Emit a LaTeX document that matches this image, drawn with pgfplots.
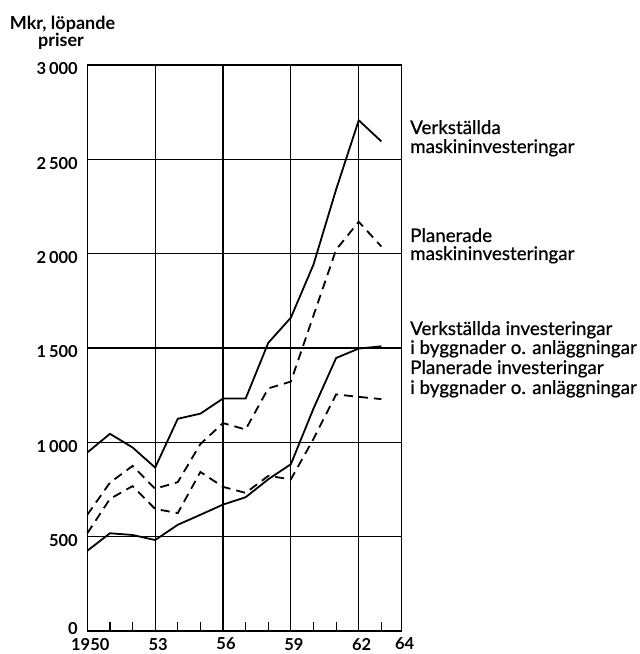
\documentclass[border=0pt]{standalone}
\usepackage{fontspec}
\setmainfont{Lato}
\newfontfamily\medfont{Lato}[FakeBold=0.6]
\usepackage{pgfplots}
\pgfplotsset{compat=1.18}
\pgfplotstableread{
year vm pm vb pb
1950 946 616 425 518
1951 1045 786 518 700
1952 973 875 509 768
1953 866 754 482 647
1954 1125 789 563 625
1955 1152 991 616 843
1956 1232 1102 670 764
1957 1232 1068 709 732
1958 1527 1286 804 822
1959 1661 1322 884 804
1960 1942 1672 1179 1018
1961 2340 2021 1447 1254
1962 2707 2169 1497 1241
1963 2595 2038 1509 1229
}\datatable
\begin{document}
\begin{tikzpicture}
\path[use as bounding box] (0,0) rectangle (640pt,654pt);
\begin{axis}[
  at={(87.3pt,23pt)}, anchor=south west,
  scale only axis, width=314.4pt, height=566pt,
  xmin=1950, xmax=1963.9, ymin=0, ymax=3000,
  xtick={1950,1953,1956,1959,1962,1963.9},
  xticklabels={1950,53,56,59,62,64},
  minor xtick={1951,1952,1954,1955,1957,1958,1960,1961,1963},
  ytick={0,500,1000,1500,2000,2500,3000},
  yticklabels={\raisebox{14pt}{0},500,1\,000,1\,500,2\,000,2\,500,3\,000},
  xmajorgrids, ymajorgrids,
  major grid style={black, line width=1.1pt},
  major tick length=0pt,
  minor tick length=9pt,
  minor tick style={black, line width=1.2pt},
  xtick pos=bottom, ytick pos=left,
  axis line style={line width=1.4pt},
  tick label style={font=\bfseries\fontsize{16.5}{17}\selectfont},
  yticklabel style={xshift=-6pt, yshift=-4pt},
  xticklabel style={xshift=3pt, yshift=-3.5pt},
  clip=false,
]
\addplot[black, line width=1.8pt] table[x=year,y=vm] {\datatable};
\addplot[black, line width=1.8pt, dash pattern=on 9pt off 6pt] table[x=year,y=pm] {\datatable};
\addplot[black, line width=1.8pt] table[x=year,y=vb] {\datatable};
\addplot[black, line width=1.8pt, dash pattern=on 9pt off 6pt] table[x=year,y=pb] {\datatable};
\end{axis}
\begin{scope}[every node/.style={anchor=base west, inner sep=0pt, font=\medfont\fontsize{18.8}{19}\selectfont}]
\node at (410pt,520pt) {Verkställda};
\node at (410pt,501pt) {maskininvesteringar};
\node at (410pt,412pt) {Planerade};
\node at (410pt,394pt) {maskininvesteringar};
\node at (410pt,319pt) {Verkställda investeringar};
\node at (410pt,300pt) {i byggnader o. anläggningar};
\node at (410pt,280pt) {Planerade investeringar};
\node at (410pt,260pt) {i byggnader o. anläggningar};
\end{scope}
\node[anchor=base, inner sep=0pt, font=\bfseries\fontsize{18}{19}\selectfont] at (62.5pt,624.7pt) {Mkr, löpande};
\node[anchor=base, inner sep=0pt, font=\bfseries\fontsize{18}{19}\selectfont] at (61pt,607.3pt) {priser};
\end{tikzpicture}
\end{document}
